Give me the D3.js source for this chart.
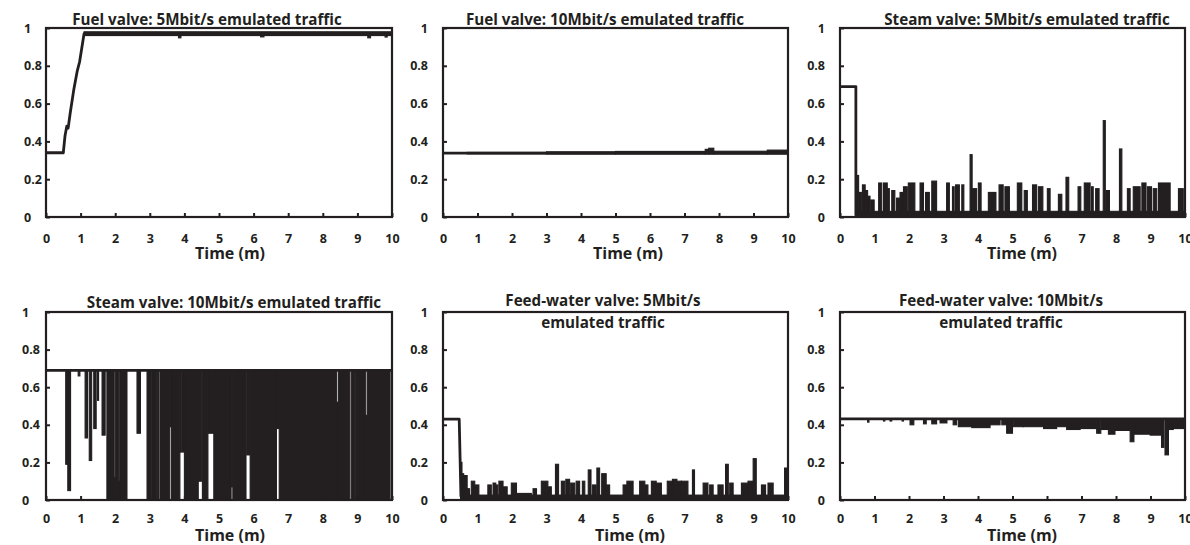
<!DOCTYPE html>
<html>
<head>
<meta charset="utf-8" />
<title>Valve positions under emulated traffic</title>
<script src="https://cdn.jsdelivr.net/npm/d3@7"></script>
<style>
  body { margin: 0; background: #fff; }
  svg text { font-family: "Open Sans", Lato, sans-serif; font-weight: 700; fill: #231f20; }
  .tick line { stroke: #231f20; stroke-width: 2; }
  .tick text { font-size: 12.5px; }
  .ptitle { font-size: 15.2px; }
  .xtitle { font-size: 16px; }
</style>
</head>
<body>
<svg id="chart" width="1190" height="545"></svg>
<script>
var xTicks = [0, 1, 2, 3, 4, 5, 6, 7, 8, 9, 10];
var yTicks = [0, 0.2, 0.4, 0.6, 0.8, 1];
var xLabel = "Time (m)";

var titles = [
  ["Fuel valve: 5Mbit/s emulated traffic"],
  ["Fuel valve: 10Mbit/s emulated traffic"],
  ["Steam valve: 5Mbit/s emulated traffic"],
  ["Steam valve: 10Mbit/s emulated traffic"],
  ["Feed-water valve: 5Mbit/s", "emulated traffic"],
  ["Feed-water valve: 10Mbit/s", "emulated traffic"]
];

// line points [time, position]; bursts [t0, t1, low, high] = dense oscillation blocks
var fuel5Line = [[0,0.34],[0.5,0.34],[0.55,0.43],[0.6,0.48],[0.64,0.47],[0.7,0.55],[0.8,0.67],[0.9,0.77],[0.97,0.82],[1.1,0.97],[10,0.97]];
var fuel5Bursts = [[1.1,10,0.96,0.98],[3.83,3.9,0.948,0.97],[6.2,6.3,0.953,0.97],[9.3,9.38,0.948,0.97],[9.8,9.86,0.952,0.97]];

var fuel10Line = [[0,0.338],[10,0.338]];
var fuel10Bursts = [[0.7,3,0.334,0.342],[3,5,0.333,0.345],[5,7.6,0.333,0.347],[7.6,7.7,0.333,0.358],[7.7,7.85,0.333,0.364],[7.85,9.4,0.333,0.348],[9.4,10,0.333,0.354]];

var steam5Line = [[0,0.69],[0.46,0.69],[0.46,0.01],[10,0.01]];
var steam5Bursts = [[0.46,10,0,0.03],
  [0.47,0.54,0,0.22],[0.55,0.63,0,0.13],[0.65,0.73,0,0.17],[0.73,0.8,0,0.14],[0.8,0.87,0,0.11],[0.89,0.99,0,0.09],
  [1.12,1.21,0,0.18],[1.26,1.37,0,0.18],[1.37,1.43,0,0.15],[1.5,1.59,0,0.14],[1.64,1.74,0,0.1],[1.74,1.84,0,0.13],
  [1.84,1.95,0,0.16],[1.98,2.17,0,0.18],[2.32,2.42,0,0.18],[2.48,2.59,0,0.13],[2.66,2.8,0,0.19],[3.09,3.17,0,0.18],
  [3.26,3.31,0,0.16],[3.35,3.46,0,0.17],[3.53,3.59,0,0.17],[3.77,3.83,0,0.33],[3.84,3.96,0,0.15],[4.01,4.09,0,0.18],
  [4.3,4.52,0,0.13],[4.61,4.73,0,0.17],[4.78,4.91,0,0.16],[5.14,5.27,0,0.18],[5.34,5.43,0,0.14],[5.58,5.7,0,0.17],
  [5.75,5.88,0,0.16],[6.01,6.09,0,0.15],[6.33,6.43,0,0.12],[6.55,6.63,0,0.21],[6.9,6.98,0,0.16],[7.08,7.25,0,0.18],
  [7.29,7.34,0,0.16],[7.41,7.51,0,0.15],[7.63,7.69,0,0.51],[7.71,7.81,0,0.14],[8.1,8.17,0,0.36],[8.33,8.41,0,0.15],
  [8.5,8.7,0,0.16],[8.75,8.87,0,0.18],[8.91,9.03,0,0.16],[9.08,9.18,0,0.15],[9.23,9.57,0,0.18],[9.81,9.95,0,0.15]];

var steam10Line = [[0,0.69],[10,0.69]];
var steam10Bursts = [
  [0.57,0.63,0.19,0.69],[0.63,0.71,0.05,0.69],[0.93,0.98,0.66,0.69],[1.13,1.2,0.33,0.69],[1.25,1.32,0.21,0.69],
  [1.38,1.45,0.38,0.69],[1.49,1.52,0.53,0.69],[1.62,1.71,0.345,0.69],[1.76,1.97,0,0.69],[1.97,2.0,0,0.12],
  [2.0,2.1,0,0.69],[2.1,2.13,0,0.1],[2.13,2.34,0,0.69],[2.63,2.73,0.355,0.69],
  [2.92,3.06,0,0.69],[3.08,3.19,0,0.69],[3.21,3.27,0,0.69],[3.31,3.58,0,0.69],[3.58,3.63,0.39,0.69],[3.63,3.87,0,0.69],
  [3.87,3.89,0.255,0.69],[3.91,4.0,0.255,0.69],[4.0,4.4,0,0.69],[4.4,4.5,0.1,0.69],[4.52,4.68,0,0.69],
  [4.68,4.85,0.355,0.69],[4.85,5.35,0,0.69],[5.35,5.4,0.07,0.69],[5.4,5.78,0,0.69],[5.8,5.83,0.24,0.69],
  [5.85,5.9,0.24,0.69],[5.9,6.66,0,0.69],[6.66,6.74,0.38,0.69],[6.74,8.4,0,0.69],[8.4,8.45,0,0.52],
  [8.45,8.78,0,0.69],[8.82,8.92,0,0.69],[8.94,9.23,0,0.69],[9.23,9.28,0,0.45],[9.28,9.93,0,0.69],[9.97,10,0,0.69]];

var feed5Line = [[0,0.43],[0.47,0.43],[0.52,0.02],[10,0.02]];
var feed5Bursts = [[0.52,10,0,0.025],
  [0.51,0.55,0,0.2],[0.55,0.6,0,0.14],[0.6,0.7,0,0.13],[0.7,0.77,0,0.06],[0.82,0.92,0,0.1],[0.92,1.04,0,0.08],
  [1.3,1.4,0,0.08],[1.45,1.53,0,0.09],[1.53,1.59,0,0.08],[1.62,1.74,0,0.1],[1.74,1.86,0,0.07],[1.98,2.13,0,0.09],
  [2.13,2.56,0,0.035],[2.61,2.71,0,0.06],[2.85,3.04,0,0.1],[3.04,3.14,0,0.07],[3.26,3.35,0,0.19],[3.43,3.53,0,0.1],
  [3.56,3.67,0,0.11],[3.7,3.82,0,0.09],[3.86,3.96,0,0.1],[4.04,4.11,0,0.1],[4.21,4.29,0,0.16],[4.33,4.44,0,0.08],
  [4.46,4.54,0,0.17],[4.6,4.73,0,0.14],[4.73,4.83,0,0.08],[5.22,5.33,0,0.08],[5.33,5.51,0,0.1],[5.7,5.85,0,0.1],
  [5.85,5.94,0,0.08],[6.04,6.18,0,0.1],[6.18,6.33,0,0.09],[6.5,6.65,0,0.1],[6.65,6.78,0,0.11],[6.78,6.91,0,0.1],
  [6.91,7.1,0,0.1],[7.23,7.29,0,0.16],[7.54,7.68,0,0.09],[7.73,7.83,0,0.08],[7.97,8.12,0,0.08],[8.19,8.27,0,0.19],
  [8.31,8.41,0,0.09],[8.65,8.84,0,0.09],[8.84,8.99,0,0.1],[8.99,9.08,0,0.22],[9.23,9.35,0,0.08],[9.42,9.57,0,0.09],
  [9.9,10,0,0.17]];

var feed10Line = [[0,0.432],[10,0.432]];
var feed10Bursts = [
  [0.8,0.84,0.414,0.432],[1.26,1.3,0.42,0.432],[1.45,1.5,0.42,0.432],[1.8,1.84,0.42,0.432],[2.03,2.14,0.4,0.432],
  [2.42,2.5,0.405,0.432],[2.66,2.8,0.405,0.432],[2.9,3.1,0.41,0.432],[3.28,3.38,0.4,0.432],[3.43,3.82,0.39,0.432],
  [3.82,4.35,0.385,0.432],[4.35,4.64,0.4,0.432],[4.69,4.83,0.4,0.432],[4.83,5.0,0.355,0.432],[5.02,5.31,0.39,0.432],
  [5.31,5.9,0.39,0.432],[5.9,6.28,0.38,0.432],[6.28,6.57,0.39,0.432],[6.57,6.96,0.375,0.432],[6.96,7.44,0.38,0.432],
  [7.44,7.56,0.355,0.432],[7.58,7.78,0.375,0.432],[7.78,7.97,0.35,0.432],[7.97,8.41,0.37,0.432],[8.41,8.52,0.31,0.432],
  [8.52,8.99,0.35,0.432],[8.99,9.32,0.345,0.432],[9.32,9.39,0.28,0.432],[9.42,9.52,0.24,0.432],[9.52,9.66,0.375,0.432],
  [9.66,10,0.38,0.432]];

var lines = [fuel5Line, fuel10Line, steam5Line, steam10Line, feed5Line, feed10Line];
var bursts = [fuel5Bursts, fuel10Bursts, steam5Bursts, steam10Bursts, feed5Bursts, feed10Bursts];

// panel geometry (pixels)
var layout = [
  {left: 46,  right: 392,  top: 28,  bottom: 217, tx: 207,  ty: 25,  xt: 230,  pad: 17.5, labelStart: 24},
  {left: 443, right: 788,  top: 28,  bottom: 217, tx: 605,  ty: 25,  xt: 628,  pad: 17.5},
  {left: 840, right: 1185, top: 28,  bottom: 217, tx: 1027, ty: 25,  xt: 1022, pad: 17.5},
  {left: 46,  right: 392,  top: 312, bottom: 500, tx: 234,  ty: 308, xt: 230,  pad: 14.5, labelStart: 22},
  {left: 443, right: 788,  top: 312, bottom: 500, tx: 603,  ty: 306, xt: 630,  pad: 14.5},
  {left: 840, right: 1185, top: 312, bottom: 500, tx: 1001, ty: 306, xt: 1022, pad: 14.5}
];

var ink = "#231f20";
var svg = d3.select("#chart");

layout.forEach(function (L, i) {
  var x = d3.scaleLinear().domain([0, 10]).range([L.left, L.right]);
  var y = d3.scaleLinear().domain([0, 1]).range([L.bottom, L.top]);
  var g = svg.append("g").attr("class", "panel");

  // dense oscillation blocks, outlined so they read as heavy as the original
  g.append("g").selectAll("rect")
    .data(bursts[i])
    .join("rect")
      .attr("x", d => x(d[0]))
      .attr("width", d => Math.max(0.5, x(d[1]) - x(d[0])))
      .attr("y", d => y(d[3]))
      .attr("height", d => Math.max(0.5, y(d[2]) - y(d[3])))
      .attr("fill", ink)
      .attr("stroke", ink)
      .attr("stroke-width", 1.1);

  g.append("path")
    .datum(lines[i])
    .attr("d", d3.line().x(d => x(d[0])).y(d => y(d[1])))
    .attr("fill", "none")
    .attr("stroke", ink)
    .attr("stroke-width", 2.8)
    .attr("stroke-linejoin", "round");

  g.append("rect")
    .attr("x", L.left).attr("y", L.top)
    .attr("width", L.right - L.left).attr("height", L.bottom - L.top)
    .attr("fill", "none").attr("stroke", ink).attr("stroke-width", 2.2);

  var xa = g.append("g")
    .attr("transform", "translate(0," + L.bottom + ")")
    .call(d3.axisBottom(x).tickValues(xTicks).tickFormat(String)
      .tickSizeInner(-4).tickSizeOuter(0).tickPadding(L.pad));
  xa.select(".domain").remove();

  var ya = g.append("g")
    .attr("transform", "translate(" + L.left + ",0)")
    .call(d3.axisLeft(y).tickValues(yTicks).tickFormat(String)
      .tickSizeInner(-4).tickSizeOuter(0).tickPadding(15));
  ya.select(".domain").remove();
  if (L.labelStart) {
    ya.selectAll(".tick text").attr("text-anchor", "start").attr("x", L.labelStart - L.left);
  }

  g.append("text")
    .attr("class", "xtitle")
    .attr("x", L.xt).attr("y", L.bottom + (i < 3 ? 42 : 41))
    .attr("text-anchor", "middle")
    .text(xLabel);

  g.append("g").selectAll("text")
    .data(titles[i])
    .join("text")
      .attr("class", "ptitle")
      .attr("x", L.tx)
      .attr("y", (d, k) => L.ty + k * 21.5)
      .attr("text-anchor", "middle")
      .text(d => d);
});
</script>
</body>
</html>
